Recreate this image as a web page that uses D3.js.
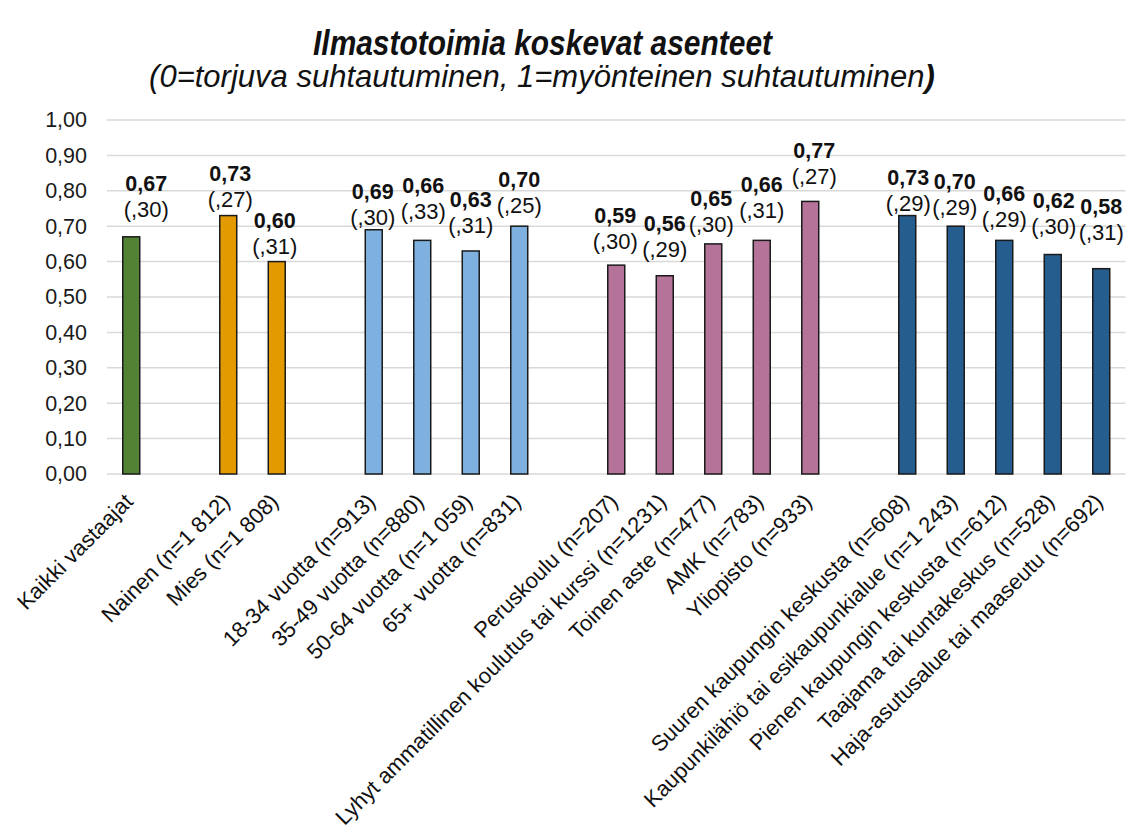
<!DOCTYPE html>
<html>
<head>
<meta charset="utf-8">
<script src="https://cdn.jsdelivr.net/npm/d3@7"></script>
<style>
  body { margin: 0; background: #fff; }
  text { font-family: "Liberation Sans", Arial, sans-serif; }
</style>
</head>
<body>
<svg width="1131" height="834"></svg>
<script>
"use strict";

// categories, with empty slots as group separators
const categories = [
  "Kaikki vastaajat", "",
  "Nainen (n=1 812)", "Mies (n=1 808)", "",
  "18-34 vuotta (n=913)", "35-49 vuotta (n=880)", "50-64 vuotta (n=1 059)", "65+ vuotta (n=831)", "",
  "Peruskoulu (n=207)", "Lyhyt ammatillinen koulutus tai kurssi (n=1231)", "Toinen aste (n=477)", "AMK (n=783)", "Yliopisto (n=933)", "",
  "Suuren kaupungin keskusta (n=608)", "Kaupunkilähiö tai esikaupunkialue (n=1 243)", "Pienen kaupungin keskusta (n=612)", "Taajama tai kuntakeskus (n=528)", "Haja-asutusalue tai maaseutu (n=692)"
];
const means = [0.67, null, 0.73, 0.60, null, 0.69, 0.66, 0.63, 0.70, null, 0.59, 0.56, 0.65, 0.66, 0.77, null, 0.73, 0.70, 0.66, 0.62, 0.58];
const sds   = [",30", null, ",27", ",31", null, ",30", ",33", ",31", ",25", null, ",30", ",29", ",30", ",31", ",27", null, ",29", ",29", ",29", ",30", ",31"];
const groups = [0, null, 1, 1, null, 2, 2, 2, 2, null, 3, 3, 3, 3, 3, null, 4, 4, 4, 4, 4];
const yTicks = [0, 0.1, 0.2, 0.3, 0.4, 0.5, 0.6, 0.7, 0.8, 0.9, 1.0];

// layout: colours and hand-placed label nudges (px) as in the original
const groupColors = ["#548235", "#E29A00", "#7EB1DF", "#B5739A", "#265D8F"];
const labelLift = [46, 0, 35, 34, 0, 31, 47, 44, 39, 0, 42, 45, 38, 48, 43, 0, 31, 37, 39, 47, 55];
const labelShift = [15, 0, 2, -2, 0, -1, 1, 0, 0, 0, -1, 0, -2, 0, 4, 0, 1, -1, 0, 1, 0];

var svg = d3.select("svg"),
    left = 107,
    step = 48.5;

var slots = categories.map((c, i) => i);

var x = d3.scaleBand()
    .domain(slots)
    .range([left, left + categories.length * step])
    .paddingInner(0.65)
    .paddingOuter(0.325);

var y = d3.scaleLinear()
    .domain([0, 1])
    .range([474, 120]);

var fmt = v => d3.format(".2f")(v).replace(".", ",");

// gridlines
svg.append("g")
    .selectAll("line")
    .data(yTicks)
    .enter().append("line")
    .attr("x1", left)
    .attr("x2", left + categories.length * step)
    .attr("y1", d => y(d))
    .attr("y2", d => y(d))
    .attr("stroke", "#d9d9d9")
    .attr("stroke-width", 1.5);

// y axis labels
var yAxis = d3.axisLeft(y).tickValues(yTicks).tickFormat(fmt).tickSize(0).tickPadding(20);
var gy = svg.append("g")
    .attr("transform", "translate(" + left + ",0)")
    .call(yAxis);
gy.select(".domain").remove();
gy.selectAll("text")
    .attr("font-size", 21.5)
    .attr("fill", "#1a1a1a")
    .style("font-family", "'Liberation Sans', Arial, sans-serif");

var barData = slots.filter(i => means[i] !== null);

// bars
svg.append("g")
    .selectAll("rect")
    .data(barData)
    .enter().append("rect")
    .attr("x", i => x(i))
    .attr("width", x.bandwidth())
    .attr("y", i => y(means[i]))
    .attr("height", i => y(0) - y(means[i]))
    .attr("fill", i => groupColors[groups[i]])
    .attr("stroke", "#1a1a1a")
    .attr("stroke-width", 1.5);

// value labels (mean bold, sd below)
var labels = svg.append("g")
    .selectAll("g")
    .data(barData)
    .enter().append("g")
    .attr("transform", i => "translate(" + (x(i) + x.bandwidth() / 2 + labelShift[i]) + "," + (y(means[i]) - labelLift[i]) + ")");

labels.append("text")
    .attr("text-anchor", "middle")
    .attr("font-size", 21.5)
    .attr("font-weight", "bold")
    .attr("fill", "#111")
    .text(i => fmt(means[i]));

labels.append("text")
    .attr("y", 26)
    .attr("text-anchor", "middle")
    .attr("font-size", 22)
    .attr("fill", "#111")
    .text(i => "(" + sds[i] + ")");

// x category labels, rotated
svg.append("g")
    .selectAll("text")
    .data(barData)
    .enter().append("text")
    .attr("transform", i => "translate(" + (x(i) + x.bandwidth() / 2 + 3) + "," + (y(0) + 29) + ") rotate(-45)")
    .attr("text-anchor", "end")
    .attr("font-size", 22)
    .attr("fill", "#111")
    .text(i => categories[i]);

// title
svg.append("text")
    .attr("x", 313)
    .attr("y", 55)
    .attr("textLength", 459)
    .attr("lengthAdjust", "spacingAndGlyphs")
    .attr("font-size", 35)
    .attr("font-weight", "bold")
    .attr("font-style", "italic")
    .attr("fill", "#111")
    .text("Ilmastotoimia koskevat asenteet");

var sub = svg.append("text")
    .attr("x", 542)
    .attr("y", 87)
    .attr("text-anchor", "middle")
    .attr("font-size", 31)
    .attr("font-style", "italic")
    .attr("fill", "#111");
sub.append("tspan").text("(0=torjuva suhtautuminen, 1=myönteinen suhtautuminen");
sub.append("tspan").attr("font-weight", "bold").text(")");
</script>
</body>
</html>
